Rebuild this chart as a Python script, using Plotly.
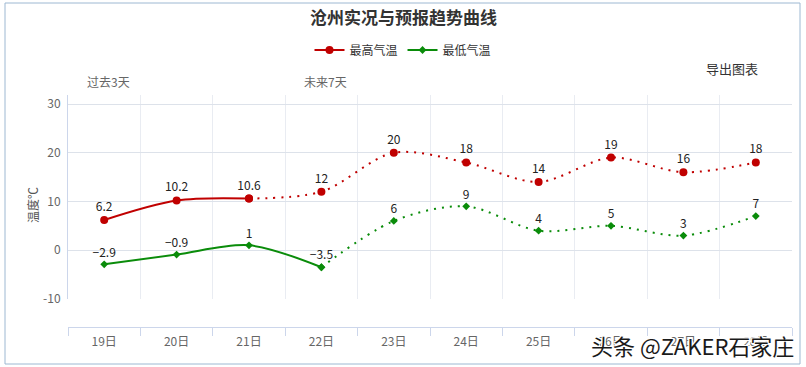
import plotly.graph_objects as go

# ---- data ----
categories = ["19日", "20日", "21日", "22日", "23日", "24日", "25日", "26日", "27日", "28日"]
max_temp = [6.2, 10.2, 10.6, 12, 20, 18, 14, 19, 16, 18]
min_temp = [-2.9, -0.9, 1, -3.5, 6, 9, 4, 5, 3, 7]
max_obs_end = 3   # observed (solid) points for max series: indices 0..2
min_obs_end = 4   # observed (solid) points for min series: indices 0..3
y_ticks = [-10, 0, 10, 20, 30]

FONT = "Noto Sans CJK SC, Noto Sans, sans-serif"
RED = "#c00000"
GREEN = "#0a8c0a"

# pixel -> paper helpers (plot area: x 68..792, y 95..327)
L, R, T, B = 68, 792, 95, 327
W, H = R - L, B - T


def px(x):
    return (x - L) / W


def py(y):
    return (B - y) / H


def fmt(v):
    s = ("%g" % v)
    return s.replace("-", "−")


fig = go.Figure()


def add_series(vals, split, color, name, msym, msize):
    # solid observed part
    xs = categories[:split]
    ys = vals[:split]
    fig.add_trace(go.Scatter(
        x=xs, y=ys, mode="lines+markers+text", name=name,
        line=dict(color=color, width=2, shape="spline", smoothing=0.9),
        marker=dict(color=color, size=msize, symbol=msym),
        text=[fmt(v) for v in ys], textposition="top center",
        textfont=dict(family=FONT, size=12, color="#222"),
        legendgroup=name, showlegend=True, cliponaxis=False,
    ))
    # dotted forecast part
    xs2 = categories[split - 1:]
    ys2 = vals[split - 1:]
    texts2 = [""] + [fmt(v) for v in ys2[1:]]
    fig.add_trace(go.Scatter(
        x=xs2, y=ys2, mode="lines+markers+text", name=name,
        line=dict(color=color, width=2, shape="spline", smoothing=0.9, dash="2px,6px"),
        marker=dict(color=color, size=msize, symbol=msym),
        text=texts2, textposition="top center",
        textfont=dict(family=FONT, size=12, color="#222"),
        legendgroup=name, showlegend=False, cliponaxis=False,
    ))


add_series(max_temp, max_obs_end, RED, "最高气温", "circle", 8)
add_series(min_temp, min_obs_end, GREEN, "最低气温", "diamond", 6)

annotations = [
    dict(text="<b>沧州实况与预报趋势曲线</b>", x=px(403), y=py(17), xref="paper", yref="paper",
         showarrow=False, font=dict(family=FONT, size=17, color="#333"), xanchor="center", yanchor="middle"),
    dict(text="导出图表", x=px(732), y=py(68), xref="paper", yref="paper",
         showarrow=False, font=dict(family=FONT, size=13, color="#333"), xanchor="center", yanchor="middle"),
    dict(text="过去3天", x=px(108), y=py(82), xref="paper", yref="paper",
         showarrow=False, font=dict(family=FONT, size=12, color="#666"), xanchor="center", yanchor="middle"),
    dict(text="未来7天", x=px(325), y=py(82), xref="paper", yref="paper",
         showarrow=False, font=dict(family=FONT, size=12, color="#666"), xanchor="center", yanchor="middle"),
    dict(text="温度℃", x=px(32), y=py(205), xref="paper", yref="paper", textangle=-90,
         showarrow=False, font=dict(family=FONT, size=12, color="#555"), xanchor="center", yanchor="middle"),
    dict(text="头条 @ZAKER石家庄", x=px(796), y=py(345), xref="paper", yref="paper",
         showarrow=False, xanchor="right", yanchor="middle",
         font=dict(family=FONT, size=22, color="#1a1a1a",
                   shadow="1px 1px 0 #fff, -1px -1px 0 #fff, 1px -1px 0 #fff, -1px 1px 0 #fff")),
]

shapes = [
    dict(type="rect", xref="paper", yref="paper",
         x0=px(5), x1=px(800), y0=py(364), y1=py(3),
         line=dict(color="#9db8d2", width=1), fillcolor="rgba(0,0,0,0)", layer="below"),
]

fig.update_layout(
    width=806, height=367,
    margin=dict(l=L, r=806 - R, t=T, b=367 - B, pad=0),
    paper_bgcolor="white", plot_bgcolor="white",
    font=dict(family=FONT, size=12, color="#333"),
    showlegend=True,
    legend=dict(orientation="h", x=px(403), xanchor="center", y=py(50), yanchor="middle",
                font=dict(family=FONT, size=12, color="#333"), bgcolor="rgba(0,0,0,0)",
                itemwidth=30, tracegroupgap=0),
    annotations=annotations,
    shapes=shapes,
    xaxis=dict(type="category", categoryorder="array", categoryarray=categories,
               range=[-0.5, len(categories) - 0.5],
               anchor="free", position=0, tickson="boundaries",
               showgrid=True, gridcolor="#e9ecf2", gridwidth=1,
               showline=True, linecolor="#ccd6eb", linewidth=1,
               ticks="outside", ticklen=8, tickcolor="#ccd6eb", ticklabelstandoff=4,
               tickfont=dict(family=FONT, size=12, color="#666"),
               zeroline=False, fixedrange=True),
    yaxis=dict(domain=[(B - 299) / H, 1], range=[-10.02, 31.85],
               tickvals=y_ticks, ticktext=[str(v) for v in y_ticks],
               showgrid=True, gridcolor="#dde2ea", gridwidth=1,
               showline=True, linecolor="#ccd6eb", linewidth=1,
               ticks="", ticklabelstandoff=4,
               tickfont=dict(family=FONT, size=12, color="#666"),
               zeroline=False, fixedrange=True),
)

fig.write_html("out.html", config={"displayModeBar": False},
               post_script="document.body.style.margin='0';document.body.style.overflow='hidden';")
